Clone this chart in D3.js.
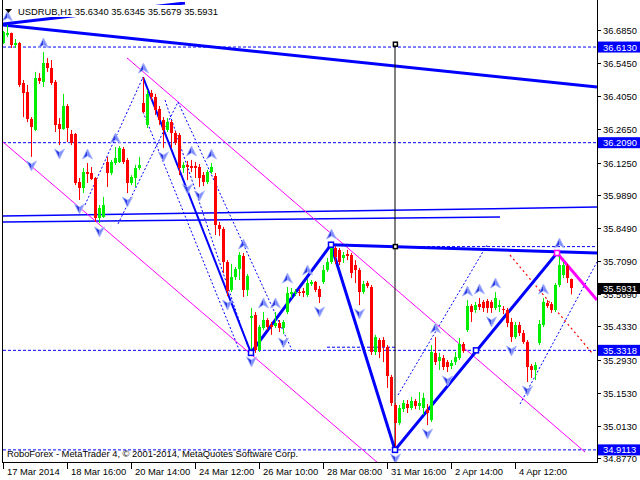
<!DOCTYPE html>
<html><head><meta charset="utf-8">
<script src="https://cdn.jsdelivr.net/npm/d3@7/dist/d3.min.js"></script>
<style>body{margin:0;background:#fff}svg{display:block}text{font-family:"Liberation Sans",Arial,sans-serif;font-size:9.4px}</style>
</head><body><svg id="c" width="640" height="480"></svg>
<script>
// ---------- data ----------
const symbol = "USDRUB,H1";
const lastOHLC = [35.6340, 35.6345, 35.5679, 35.5931];
const opens = [36.630,36.664,36.672,36.622,36.630,36.461,36.423,36.309,36.263,36.482,36.465,36.546,36.525,36.465,36.288,36.267,36.364,36.246,36.246,36.043,36.018,36.085,36.081,36.060,35.891,35.895,36.127,36.081,36.123,36.127,36.182,36.136,36.039,36.060,36.102,36.377,36.284,36.419,36.402,36.351,36.305,36.263,36.296,36.250,36.241,36.102,36.115,36.111,36.111,36.106,36.072,36.043,36.085,36.068,35.861,35.844,35.705,35.587,35.642,35.675,35.731,35.587,35.468,35.481,35.333,35.426,35.460,35.439,35.435,35.447,35.426,35.494,35.570,35.574,35.578,35.582,35.565,35.612,35.621,35.591,35.621,35.671,35.705,35.764,35.756,35.722,35.739,35.735,35.692,35.671,35.578,35.616,35.599,35.325,35.375,35.375,35.346,35.219,35.101,35.025,35.084,35.105,35.088,35.118,35.097,35.088,35.080,35.038,35.321,35.287,35.299,35.282,35.266,35.282,35.299,35.359,35.418,35.519,35.502,35.527,35.536,35.540,35.536,35.511,35.515,35.506,35.502,35.452,35.388,35.439,35.405,35.367,35.266,35.249,35.363,35.439,35.532,35.527,35.502,35.608,35.650,35.688,35.6340];
const highs = [36.681,36.706,36.674,36.647,36.634,36.474,36.453,36.317,36.508,36.503,36.592,36.567,36.558,36.474,36.313,36.415,36.372,36.263,36.250,36.060,36.102,36.123,36.106,36.064,35.946,35.980,36.149,36.136,36.191,36.195,36.191,36.144,36.072,36.115,36.149,36.486,36.432,36.432,36.415,36.364,36.317,36.313,36.305,36.258,36.250,36.127,36.132,36.136,36.127,36.119,36.085,36.094,36.123,36.081,35.874,35.853,35.713,35.697,35.684,35.747,35.743,35.654,35.511,35.494,35.439,35.494,35.468,35.452,35.494,35.460,35.460,35.599,35.595,35.591,35.591,35.595,35.633,35.629,35.625,35.604,35.692,35.722,35.785,35.773,35.764,35.747,35.756,35.743,35.713,35.680,35.625,35.625,35.608,35.397,35.384,35.388,35.354,35.228,35.109,35.101,35.122,35.122,35.135,35.126,35.156,35.152,35.105,35.354,35.388,35.321,35.312,35.291,35.291,35.325,35.384,35.367,35.544,35.527,35.536,35.553,35.544,35.549,35.544,35.578,35.544,35.519,35.511,35.468,35.452,35.452,35.418,35.375,35.274,35.282,35.460,35.553,35.544,35.536,35.616,35.747,35.705,35.697,35.6345];
const lows = [36.626,36.655,36.609,36.609,36.444,36.317,36.296,36.149,36.258,36.457,36.444,36.508,36.453,36.254,36.199,36.263,36.212,36.199,36.030,35.967,35.996,36.039,36.051,35.874,35.870,35.891,36.022,36.072,36.115,36.123,36.119,35.996,36.030,36.022,36.094,36.334,36.271,36.389,36.326,36.284,36.187,36.254,36.187,36.199,36.072,36.081,36.051,36.085,36.060,36.022,36.026,36.034,36.077,35.819,35.815,35.658,35.561,35.578,35.629,35.629,35.557,35.561,35.321,35.321,35.325,35.418,35.418,35.397,35.426,35.409,35.401,35.485,35.553,35.561,35.561,35.557,35.557,35.604,35.578,35.532,35.612,35.663,35.697,35.697,35.692,35.701,35.713,35.637,35.616,35.523,35.570,35.595,35.312,35.312,35.299,35.282,35.173,35.097,34.9113,35.016,35.071,35.067,35.080,35.084,35.080,35.059,35.016,35.029,35.270,35.249,35.249,35.240,35.253,35.270,35.291,35.321,35.409,35.452,35.490,35.502,35.494,35.490,35.490,35.502,35.494,35.485,35.430,35.367,35.380,35.392,35.359,35.198,35.215,35.206,35.354,35.430,35.511,35.490,35.494,35.599,35.637,35.616,35.5679];
const closes = [36.677,36.672,36.622,36.630,36.453,36.419,36.309,36.275,36.482,36.470,36.546,36.525,36.461,36.284,36.267,36.364,36.271,36.208,36.039,36.018,36.085,36.077,36.056,35.891,35.933,35.946,36.081,36.127,36.144,36.187,36.127,36.039,36.064,36.102,36.115,36.339,36.415,36.402,36.347,36.305,36.263,36.296,36.250,36.208,36.102,36.115,36.106,36.102,36.102,36.060,36.043,36.085,36.106,35.861,35.844,35.705,35.582,35.642,35.675,35.735,35.587,35.646,35.477,35.333,35.430,35.460,35.430,35.430,35.447,35.426,35.452,35.574,35.578,35.578,35.574,35.574,35.616,35.621,35.587,35.557,35.671,35.705,35.764,35.726,35.705,35.735,35.731,35.658,35.671,35.578,35.612,35.604,35.325,35.388,35.325,35.346,35.223,35.109,35.025,35.088,35.109,35.088,35.118,35.097,35.109,35.131,35.067,35.325,35.282,35.304,35.261,35.261,35.278,35.304,35.359,35.329,35.519,35.494,35.523,35.515,35.511,35.511,35.511,35.553,35.523,35.502,35.447,35.388,35.439,35.405,35.367,35.261,35.249,35.270,35.443,35.536,35.519,35.502,35.608,35.692,35.692,35.637,35.5931];
const fractalUp = [1,10,21,28,35,47,52,60,65,68,71,76,82,108,116,119,123,135,139];
const fractalDown = [7,14,19,24,31,40,46,49,56,62,70,79,89,98,106,111,122,127,131];
const priceTicks = [36.6850,36.5450,36.4050,36.2650,36.1250,35.9890,35.8490,35.7090,35.5690,35.4330,35.2930,35.1530,35.0130,34.8770];
const timeLabels = ["17 Mar 2014","18 Mar 16:00","20 Mar 14:00","24 Mar 12:00","26 Mar 10:00","28 Mar 08:00","31 Mar 16:00","2 Apr 14:00","4 Apr 12:00"];
const timeLabelBars = [0,16,32,48,64,80,96,112,128];
const levels = [36.6130, 36.2090, 35.3318, 34.9113];
// analysis objects: [bar, price] points
const trendA = [[0,36.710],[45.5,36.799]];
const trendB = [[0,36.706],[148.5,36.444]];
const channel1 = [[0,35.899],[148.5,35.937]];
const channel2 = [[0,35.874],[124.25,35.895]];
const waveLeg1 = [[35,36.486],[62,35.321]];
const waveZigzag = [[62,35.321],[82,35.778],[98,34.9113],[138.5,35.743]];
const resistance = [[82,35.778],[148.5,35.743]];
const forecastLeg = [[138.5,35.743],[148.5,35.544]];
const magentaLow = [[0,36.212],[93.75,34.856]];
const magentaHigh = [[31,36.567],[145.5,34.902]];
const redDotted = [[126.75,35.7345],[147.25,35.3205]];
const blueDotted = [
  [[20.5,35.946],[35,36.486]],
  [[28.75,35.866],[43.75,36.381]],
  [[35,36.339],[59.25,35.325]],
  [[40.5,36.389],[61.25,35.346]],
  [[43.75,36.381],[72.25,35.333]],
  [[98.75,35.143],[121,35.777]],
  [[129.25,35.105],[148.5,35.705]]
];
const dashedShort = [[[98.5,35.770],[148.5,35.770]],[[81,35.345],[98.5,35.345]]];
const verticalMark = [[98,36.625],[98,34.9113]];
const blueSquares = [[62,35.321],[82,35.778],[98,34.9113],[118.25,35.3318]];
const magentaSquares = [[138.5,35.743]];
const blackSquares = [[98.1,36.625],[98.1,35.770]];

// ---------- drawing ----------
const BLUE = "#0000ff", MAG = "#ff00ff";
const svg = d3.select("#c");
const x = d3.scaleLinear().domain([0,148.5]).range([3,597]);
const y = d3.scaleLinear().domain([34.877,36.685]).range([458,30]);
svg.append("rect").attr("width",640).attr("height",480).attr("fill","#fff");
svg.append("defs").append("clipPath").attr("id","plot").append("rect")
  .attr("x",3).attr("y",2).attr("width",594).attr("height",460);
const g = svg.append("g").attr("clip-path","url(#plot)");

g.append("text").attr("x",7).attr("y",457).attr("fill","#000")
  .attr("textLength",291).attr("lengthAdjust","spacingAndGlyphs")
  .text("RoboForex - MetaTrader 4, © 2001-2014, MetaQuotes Software Corp.");

const ln = d3.line().x(d=>x(d[0])).y(d=>y(d[1]));
function path(pts,color,w,dash){
  const p=g.append("path").attr("d",ln(pts)).attr("fill","none").attr("stroke",color).attr("stroke-width",w);
  if(dash) p.attr("stroke-dasharray",dash);
  return p;
}
levels.forEach(v=>path([[0,v],[148.5,v]],BLUE,1,"3,2"));
dashedShort.forEach(s=>path(s,BLUE,1,"3,2"));
path(channel1,BLUE,1.5); path(channel2,BLUE,1.5);
path(magentaLow,MAG,1); path(magentaHigh,MAG,1);
blueDotted.forEach(s=>path(s,BLUE,1,"2,2"));
path(redDotted,"#ff0000",1.2,"2,3");
path(trendA,BLUE,3); path(trendB,BLUE,3);
path(waveLeg1,BLUE,2);
path(waveZigzag,BLUE,3);
path(resistance,BLUE,3);
path(forecastLeg,MAG,3);
path(verticalMark,"#000",1);

// candles
const n = closes.length;
const cg = g.append("g");
for(let i=0;i<n;i++){
  const up = closes[i]>=opens[i];
  const col = up ? "#00ee00" : "#ff0000";
  const xc = Math.round(x(i));
  cg.append("line").attr("x1",xc+0.5).attr("x2",xc+0.5)
    .attr("y1",y(highs[i])).attr("y2",y(lows[i])).attr("stroke",col).attr("stroke-width",1);
  const t = Math.round(y(Math.max(opens[i],closes[i])));
  const b = Math.round(y(Math.min(opens[i],closes[i])));
  cg.append("rect").attr("x",xc-1).attr("y",t).attr("width",3).attr("height",Math.max(1,b-t)).attr("fill",col);
}

// squares
function square(p,stroke,sz){
  g.append("rect").attr("x",x(p[0])-sz/2).attr("y",y(p[1])-sz/2).attr("width",sz).attr("height",sz)
    .attr("fill","#fff").attr("stroke",stroke).attr("stroke-width",1.5);
}
blueSquares.forEach(p=>square(p,BLUE,5));
magentaSquares.forEach(p=>square(p,MAG,5));
blackSquares.forEach(p=>square(p,"#000",4));

// fractals
function arrow(cx,cy,dir){
  const s=dir; // 1 = up, -1 = down
  const tip=[cx,cy-5*s], l=[cx-5,cy+5*s], r=[cx+5,cy+5*s], m=[cx,cy+2*s];
  g.append("path").attr("d",`M${tip}L${m}L${l}Z`).attr("fill","#2a3ae0");
  g.append("path").attr("d",`M${tip}L${r}L${m}Z`).attr("fill","#7d8cff");
  g.append("path").attr("d",`M${tip}L${r}L${m}L${l}Z`).attr("fill","none").attr("stroke","#aab6ff").attr("stroke-width",0.8);
}
fractalUp.forEach(i=>arrow(x(i)+0.5,y(highs[i])-9,1));
fractalDown.forEach(i=>arrow(x(i)+0.5,y(lows[i])+9,-1));

// title
svg.append("rect").attr("x",16).attr("y",5).attr("width",204).attr("height",12).attr("fill","#fff");
svg.append("path").attr("d","M5,9L12,9L8.5,13Z").attr("fill","#000");
svg.append("text").attr("x",18).attr("y",14.5).attr("fill","#000")
  .attr("textLength",200).attr("lengthAdjust","spacingAndGlyphs")
  .text(symbol+"  "+lastOHLC.map(v=>v.toFixed(4)).join(" "));

// frame
svg.append("line").attr("x1",2.5).attr("x2",2.5).attr("y1",0).attr("y2",463).attr("stroke","#000");
svg.append("line").attr("x1",597.5).attr("x2",597.5).attr("y1",0).attr("y2",463).attr("stroke","#000");
svg.append("line").attr("x1",2).attr("x2",598).attr("y1",462.5).attr("y2",462.5).attr("stroke","#000");

// price axis
priceTicks.forEach(v=>{
  const yy=Math.round(y(v))+0.5;
  svg.append("line").attr("x1",597).attr("x2",601).attr("y1",yy).attr("y2",yy).attr("stroke","#000");
  svg.append("text").attr("x",603).attr("y",yy+3.5).attr("fill","#000").text(v.toFixed(4));
});
function tag(v,bg){
  const yy=y(v);
  svg.append("rect").attr("x",598).attr("y",yy-5.5).attr("width",42).attr("height",11).attr("fill",bg);
  svg.append("text").attr("x",603).attr("y",yy+3.5).attr("fill","#fff").text(v.toFixed(4));
}
levels.forEach(v=>tag(v,BLUE));
tag(lastOHLC[3],"#000");

// time axis
timeLabels.forEach((t,k)=>{
  const xx=Math.round(x(timeLabelBars[k]))+0.5;
  svg.append("line").attr("x1",xx).attr("x2",xx).attr("y1",463).attr("y2",469).attr("stroke","#000");
  svg.append("text").attr("x",xx+3.5).attr("y",474.5).attr("fill","#000").text(t);
});
</script></body></html>
